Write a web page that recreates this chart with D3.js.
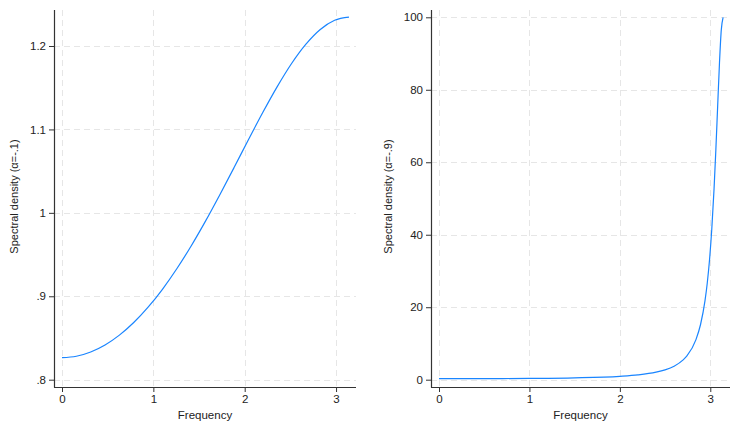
<!DOCTYPE html>
<html>
<head>
<meta charset="utf-8">
<script src="https://cdn.jsdelivr.net/npm/d3@7"></script>
<style>
  html, body { margin: 0; padding: 0; background: #fff; }
  svg { display: block; }
  text { font-family: "Liberation Sans", Arial, Helvetica, sans-serif; fill: #222; }
</style>
</head>
<body>
<svg id="chart" width="730" height="424"></svg>
<script>
// ---- Data ----
const freqLeft = [0, 0.1571, 0.3142, 0.4712, 0.6283, 0.7854, 0.9425, 1.0996, 1.2566, 1.4137,
  1.5708, 1.7279, 1.8850, 2.0420, 2.1991, 2.3562, 2.5133, 2.6704, 2.8274, 2.9845, 3.1416];
const densLeft = [0.8264, 0.8281, 0.8332, 0.8416, 0.8534, 0.8685, 0.8869, 0.9084, 0.9330, 0.9603,
  0.9901, 1.0218, 1.0546, 1.0879, 1.1205, 1.1513, 1.1790, 1.2022, 1.2198, 1.2308, 1.2346];

const freqRight = [0, 0.5, 1.0, 1.5, 2.0, 2.2, 2.4, 2.5, 2.6, 2.7, 2.7416, 2.8416, 2.8916,
  2.9416, 2.9666, 2.9916, 3.0166, 3.0416, 3.0616, 3.0816, 3.1016, 3.1216, 3.1416];
const densRight = [0.277, 0.295, 0.359, 0.516, 0.943, 1.332, 2.072, 2.718, 3.737, 5.474, 6.575, 11.06, 15.16,
  21.80, 26.67, 33.10, 41.59, 52.65, 63.46, 75.53, 87.41, 96.53, 100];

const xTicks = [0, 1, 2, 3];
const yTicksLeft = [0.8, 0.9, 1.0, 1.1, 1.2];
const yTickLabelsLeft = [".8", ".9", "1", "1.1", "1.2"];
const yTicksRight = [0, 20, 40, 60, 80, 100];
const yTickLabelsRight = ["0", "20", "40", "60", "80", "100"];

const xTitle = "Frequency";
const yTitleLeft = "Spectral density (α=-.1)";
const yTitleRight = "Spectral density (α=-.9)";

// ---- Drawing ----
const svg = d3.select("#chart");
const lineColor = "#1a85ff";
const gridColor = "#e6e6e6";
const axisColor = "#333";

function panel(opts) {
  const g = svg.append("g");
  const x = d3.scaleLinear().domain([0, Math.PI]).range(opts.xRange);
  const y = d3.scaleLinear().domain(opts.yDomain).range(opts.yRange);
  const [L, R, T, B] = opts.box;

  // grid
  g.selectAll("line.hg").data(opts.yTicks).join("line")
    .attr("x1", L).attr("x2", R)
    .attr("y1", d => Math.round(y(d)) + 0.5).attr("y2", d => Math.round(y(d)) + 0.5)
    .attr("stroke", gridColor).attr("stroke-width", 1).attr("stroke-dasharray", "6,4");
  g.selectAll("line.vg").data(xTicks).join("line")
    .attr("x1", d => Math.round(x(d)) + 0.5).attr("x2", d => Math.round(x(d)) + 0.5)
    .attr("y1", T).attr("y2", B)
    .attr("stroke", gridColor).attr("stroke-width", 1).attr("stroke-dasharray", "6,4");

  // curve
  const data = opts.freq.map((f, i) => [f, opts.dens[i]]);
  g.append("path").datum(data)
    .attr("fill", "none").attr("stroke", lineColor).attr("stroke-width", 1.2)
    .attr("d", d3.line().x(d => x(d[0])).y(d => y(d[1])).curve(d3.curveMonotoneX));

  // y axis
  const yAxis = d3.axisLeft(y).tickValues(opts.yTicks)
    .tickFormat((d, i) => opts.yLabels[i]).tickSize(5).tickPadding(3);
  const ga = g.append("g").attr("transform", `translate(${L},0)`).call(yAxis);
  ga.select(".domain").remove();
  ga.append("line").attr("x1", 0.5).attr("x2", 0.5).attr("y1", T).attr("y2", B + 0.5)
    .attr("stroke", axisColor).attr("stroke-width", 1.2);
  ga.selectAll(".tick line").attr("stroke", axisColor);
  ga.selectAll(".tick text").attr("font-size", 11.5).attr("fill", "#222")
    .style("font-family", "'Liberation Sans', Arial, sans-serif");

  // x axis
  const xAxis = d3.axisBottom(x).tickValues(xTicks).tickFormat(d3.format("d")).tickSize(5).tickPadding(3);
  const gx = g.append("g").attr("transform", `translate(0,${B})`).call(xAxis);
  gx.select(".domain").remove();
  gx.append("line").attr("x1", L).attr("x2", R).attr("y1", 0.5).attr("y2", 0.5)
    .attr("stroke", axisColor).attr("stroke-width", 1.2);
  gx.selectAll(".tick line").attr("stroke", axisColor);
  gx.selectAll(".tick text").attr("font-size", 11.5).attr("fill", "#222")
    .style("font-family", "'Liberation Sans', Arial, sans-serif");

  // titles
  g.append("text").attr("x", (L + R) / 2).attr("y", 419)
    .attr("text-anchor", "middle").attr("font-size", 11.5).text(xTitle);
  g.append("text")
    .attr("transform", `translate(${opts.yTitleX},${(T + B) / 2 - 2}) rotate(-90)`)
    .attr("text-anchor", "middle").attr("font-size", 11).text(opts.yTitle);
}

panel({
  freq: freqLeft, dens: densLeft,
  xRange: [62, 62 + Math.PI * 91.35],
  yDomain: [0.8, 1.2], yRange: [379.7, 46],
  box: [54, 356, 10, 387],
  yTicks: yTicksLeft, yLabels: yTickLabelsLeft,
  yTitle: yTitleLeft, yTitleX: 18
});

panel({
  freq: freqRight, dens: densRight,
  xRange: [439, 439 + Math.PI * 90.43],
  yDomain: [0, 100], yRange: [379.7, 17.3],
  box: [431, 730, 10, 387],
  yTicks: yTicksRight, yLabels: yTickLabelsRight,
  yTitle: yTitleRight, yTitleX: 392
});
</script>
</body>
</html>
